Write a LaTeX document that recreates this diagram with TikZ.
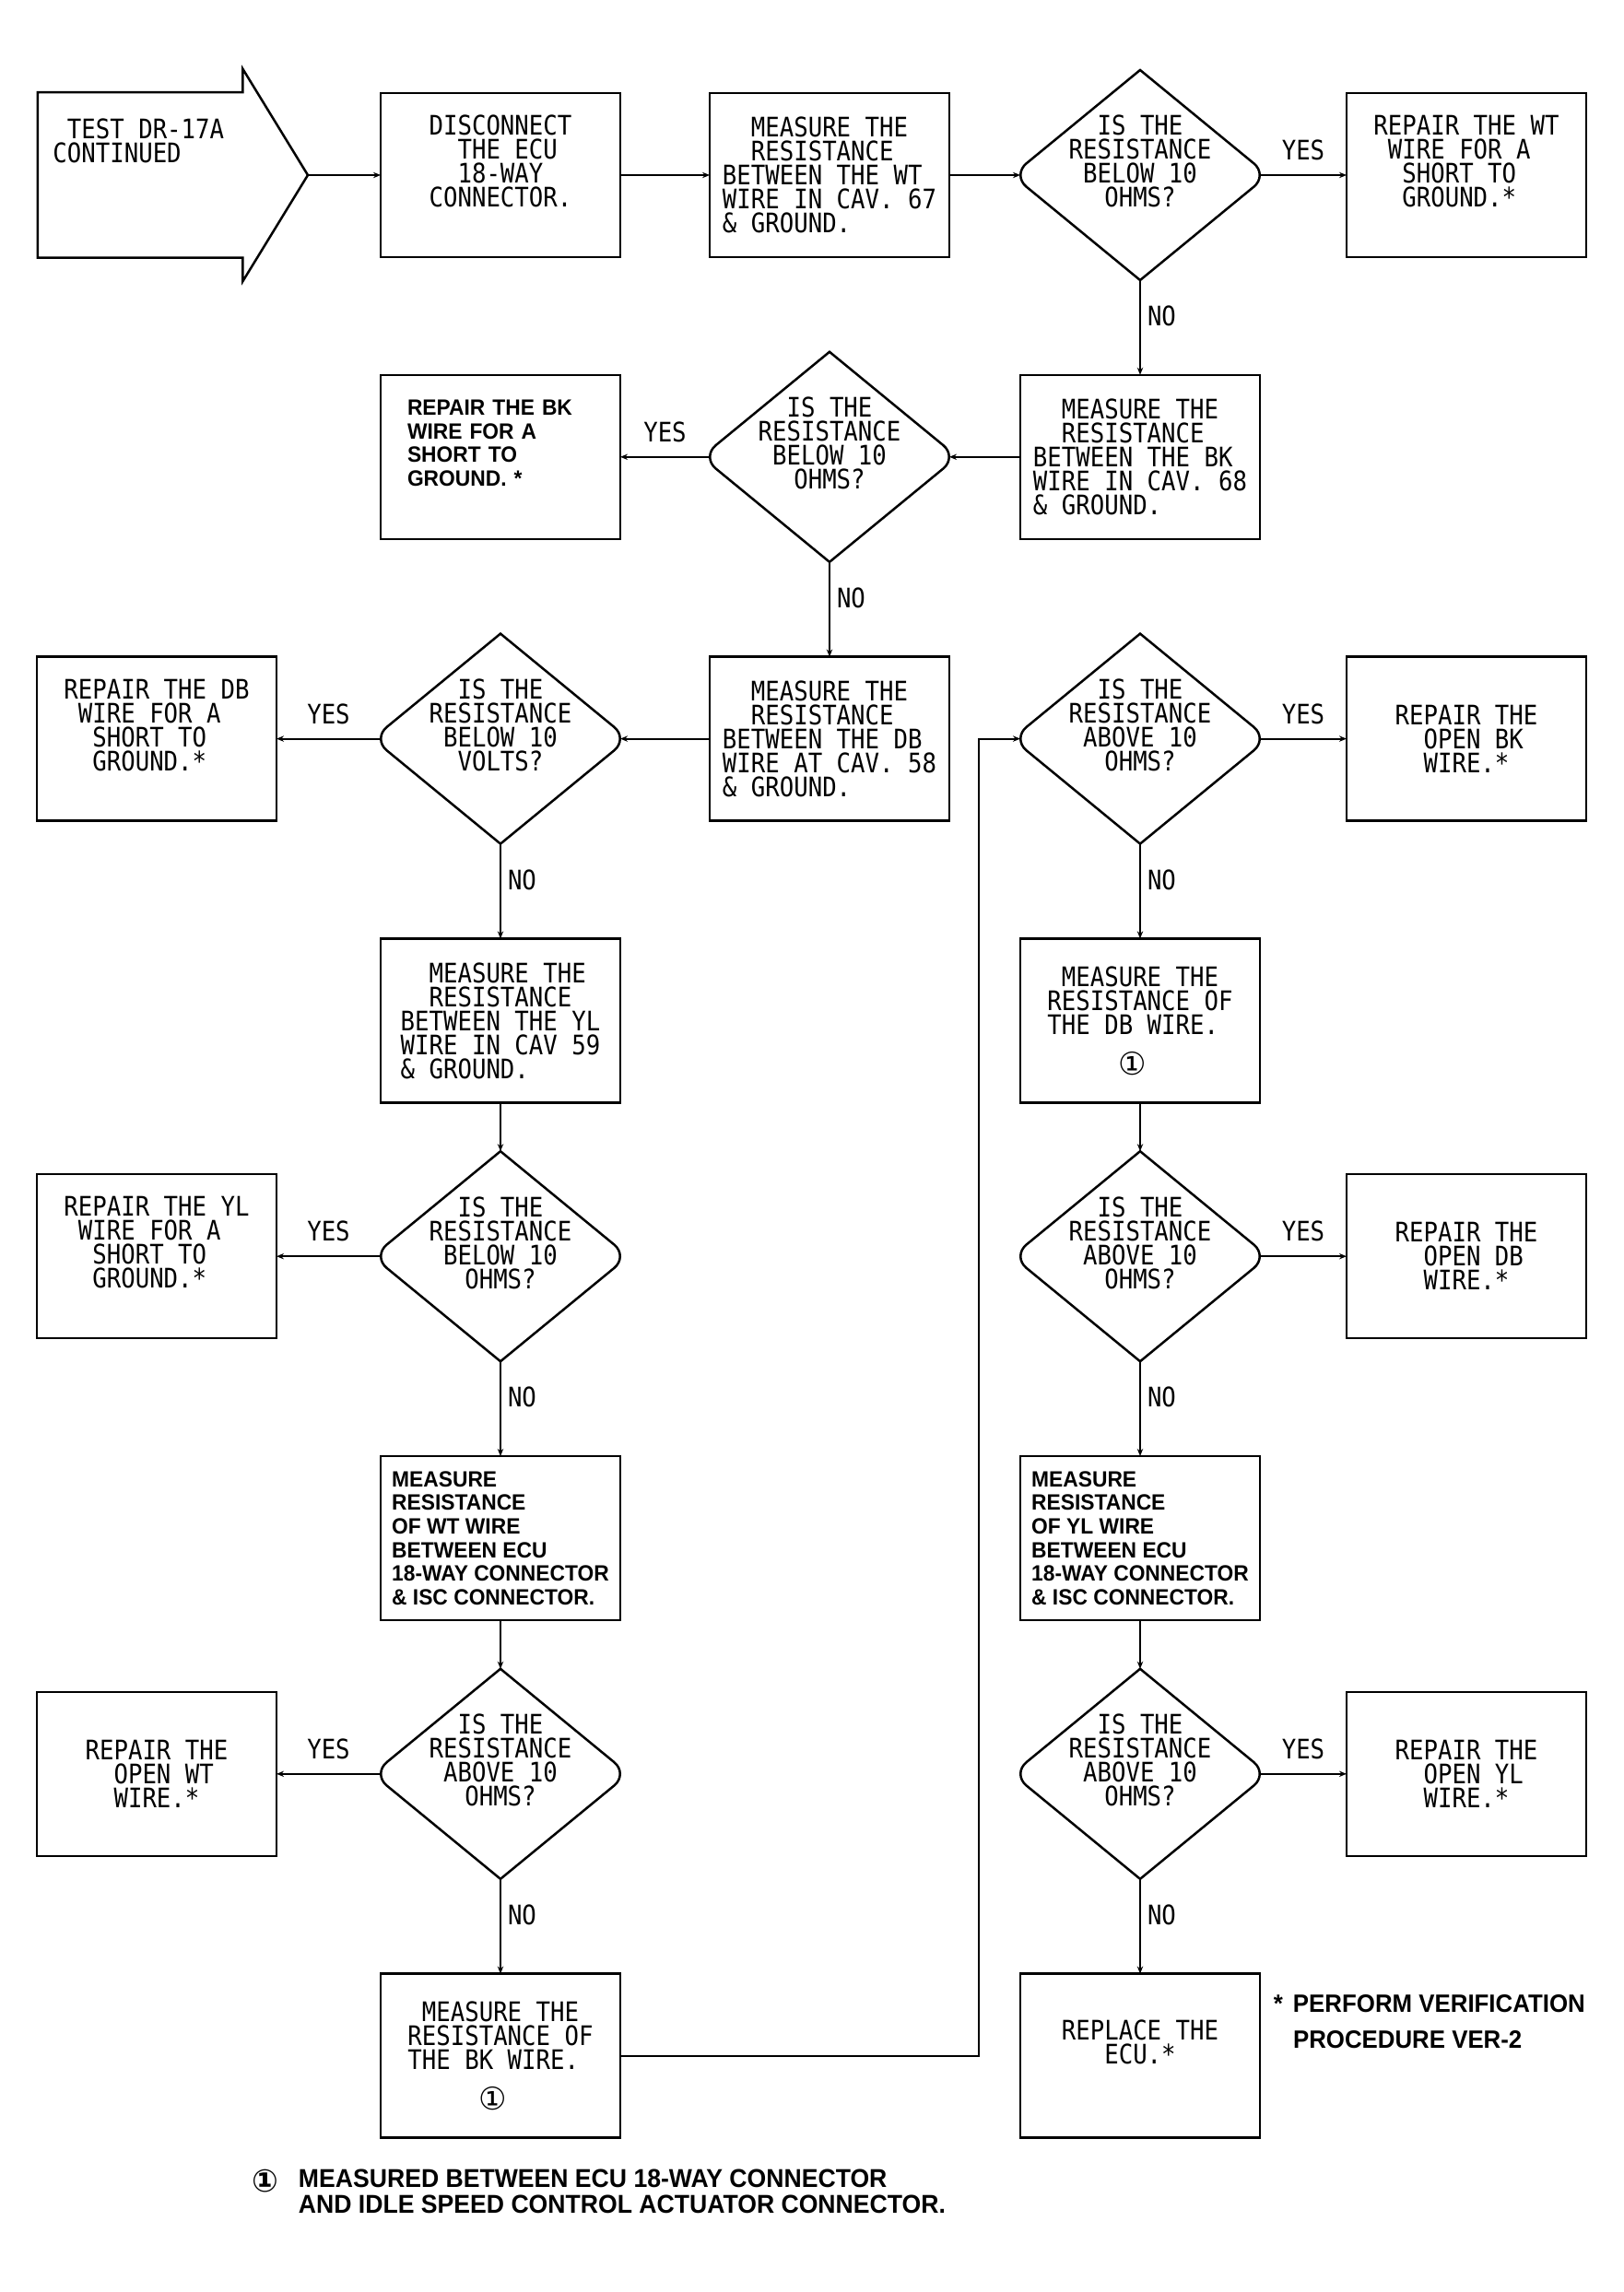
\documentclass[tikz,border=0pt]{standalone}
\usepackage{fontspec}
\newfontfamily\plotfont[FakeStretch=0.88]{DejaVu Sans Mono}
\newfontfamily\heavyfont[FakeStretch=0.95]{Liberation Sans}
\newfontfamily\circfont{DejaVu Sans}
\usetikzlibrary{arrows.meta, positioning, shapes.geometric, shapes.arrows, calc}
\newcommand{\pad}{\hphantom{0}}
\newcommand{\lift}{\rule[-15pt]{0pt}{15pt}}
\newcommand{\circone}{{\circfont\fontsize{17pt}{17pt}\selectfont ①}}
\tikzset{
  plot text/.style={font=\plotfont\fontsize{14.6pt}{13pt}\selectfont},
  heavy text/.style={font=\heavyfont\bfseries\fontsize{12pt}{12.8pt}\selectfont},
  block/.style={rectangle, draw, line width=1.25pt, minimum width=130pt, minimum height=89pt, inner sep=0pt, align=left, plot text},
  heavyblock/.style={block, heavy text},
  decision/.style={diamond, aspect=1.14, minimum width=130pt, minimum height=114pt, inner sep=-6pt, align=center, plot text},
  yeslabel/.style={midway, above=8pt, inner sep=0pt, plot text},
  nolabel/.style={pos=0.38, right=4pt, inner sep=0pt, plot text},
  startarrow/.style={single arrow, draw, line width=1.25pt, minimum height=146.5pt, minimum width=114pt, single arrow head extend=12.75pt, single arrow tip angle=117, inner xsep=0pt, inner ysep=44.25pt}
}
\begin{document}
\begin{tikzpicture}[>={Stealth[length=4pt, width=3.2pt]}, line width=1.1pt, node distance=51.4pt, every node/.style={outer sep=0pt}]
\useasboundingbox (-271.5pt,95pt) rectangle (609pt,-1148.5pt);
% top row
\node[block] (disc) at (0,0) {DISCONNECT\\\pad\pad THE ECU\\\pad\pad 18-WAY\\CONNECTOR.\lift};
\node[startarrow, left=39.5pt of disc, anchor=tip] (start) {};
\node[anchor=north west, inner sep=0pt, align=left, plot text] (starttext) at ([xshift=8.25pt, yshift=30.5pt]start.tail) {\pad TEST DR-17A\\CONTINUED};
\node[block, right=48.5pt of disc] (measWT) {\pad\pad MEASURE THE\\\pad\pad RESISTANCE\\BETWEEN THE WT\\WIRE IN CAV. 67\\\& GROUND.};
\node[decision, right=38.5pt of measWT] (q1) {IS THE\\RESISTANCE\\BELOW 10\\OHMS?\lift};
\node[block, right=47pt of q1] (repWT) {REPAIR THE WT\\\pad WIRE FOR A\\\pad\pad SHORT TO\\\pad\pad GROUND.*\lift};
% left branch
\node[block, below=of q1] (measBK) {\pad\pad MEASURE THE\\\pad\pad RESISTANCE\\BETWEEN THE BK\\WIRE IN CAV. 68\\\& GROUND.};
\node[decision, left=38.5pt of measBK] (q2) {IS THE\\RESISTANCE\\BELOW 10\\OHMS?\lift};
\node[heavyblock, text width=101pt, left=48.5pt of q2] (repBK) {REPAIR THE BK\\WIRE FOR A\\SHORT TO\\GROUND. *\lift};
\node[block, below=of q2] (measDB) {\pad\pad MEASURE THE\\\pad\pad RESISTANCE\\BETWEEN THE DB\\WIRE AT CAV. 58\\\& GROUND.};
\node[decision, left=48.5pt of measDB] (q3) {IS THE\\RESISTANCE\\BELOW 10\\VOLTS?\lift};
\node[block, left=56.5pt of q3] (repDB) {REPAIR THE DB\\\pad WIRE FOR A\\\pad\pad SHORT TO\\\pad\pad GROUND.*\lift};
\node[block, below=of q3] (measYL) {\pad\pad MEASURE THE\\\pad\pad RESISTANCE\\BETWEEN THE YL\\WIRE IN CAV 59\\\& GROUND.};
\node[decision, below=26.4pt of measYL] (q4) {IS THE\\RESISTANCE\\BELOW 10\\OHMS?\lift};
\node[block, left=56.5pt of q4] (repYL) {REPAIR THE YL\\\pad WIRE FOR A\\\pad\pad SHORT TO\\\pad\pad GROUND.*\lift};
\node[heavyblock, below=of q4] (measWTisc) {MEASURE\\RESISTANCE\\OF WT WIRE\\BETWEEN ECU\\18-WAY CONNECTOR\\\& ISC CONNECTOR.};
\node[decision, below=26.4pt of measWTisc] (q5) {IS THE\\RESISTANCE\\ABOVE 10\\OHMS?\lift};
\node[block, left=56.5pt of q5] (repWTopen) {REPAIR THE\\\pad\pad OPEN WT\\\pad\pad WIRE.*};
\node[block, below=of q5] (measBKwire) {\pad MEASURE THE\\RESISTANCE OF\\THE BK WIRE.\\[9pt]\pad\pad\pad\pad\pad\circone};
% right branch
\node[decision, right=38.5pt of measDB] (q6) {IS THE\\RESISTANCE\\ABOVE 10\\OHMS?\lift};
\node[block, right=47pt of q6] (repBKopen) {REPAIR THE\\\pad\pad OPEN BK\\\pad\pad WIRE.*};
\node[block, below=of q6] (measDBwire) {\pad MEASURE THE\\RESISTANCE OF\\THE DB WIRE.\\[9pt]\pad\pad\pad\pad\pad\circone};
\node[decision, below=26.4pt of measDBwire] (q7) {IS THE\\RESISTANCE\\ABOVE 10\\OHMS?\lift};
\node[block, right=47pt of q7] (repDBopen) {REPAIR THE\\\pad\pad OPEN DB\\\pad\pad WIRE.*};
\node[heavyblock, below=of q7] (measYLisc) {MEASURE\\RESISTANCE\\OF YL WIRE\\BETWEEN ECU\\18-WAY CONNECTOR\\\& ISC CONNECTOR.};
\node[decision, below=26.4pt of measYLisc] (q8) {IS THE\\RESISTANCE\\ABOVE 10\\OHMS?\lift};
\node[block, right=47pt of q8] (repYLopen) {REPAIR THE\\\pad\pad OPEN YL\\\pad\pad WIRE.*};
\node[block, below=of q8] (ecu) {REPLACE THE\\\pad\pad\pad ECU.*\lift};
% notes
\node[below right=11.5pt and 18pt of ecu.north east, align=left, inner sep=0pt, font=\heavyfont\bfseries\fontsize{13.6pt}{19.5pt}\selectfont] (verify) {\llap{*\hspace{5.5pt}}PERFORM VERIFICATION\\PROCEDURE VER-2};
\node[below right=17pt and -44.5pt of measBKwire.south west, align=left, inner sep=0pt, font=\heavyfont\bfseries\fontsize{14pt}{14pt}\selectfont] (measnote) {\llap{\smash{\raisebox{-2.5pt}{\circone}}\hspace{11pt}}MEASURED BETWEEN ECU 18-WAY CONNECTOR\\AND IDLE SPEED CONTROL ACTUATOR CONNECTOR.};
% diamond outlines, rounded at the side corners
\foreach \q in {q1,q2,q3,q4,q5,q6,q7,q8}
  \draw[line width=1.25pt] ($(\q.north)!.5!([xshift=4.4pt]\q.east)$) [rounded corners=10pt] -- ([xshift=4.4pt]\q.east) [sharp corners] -- (\q.south) [rounded corners=10pt] -- ([xshift=-4.4pt]\q.west) [sharp corners] -- (\q.north) -- cycle;
% connectors
\draw[->] (start) -- (disc);
\draw[->] (disc) -- (measWT);
\draw[->] (measWT) -- (q1);
\draw[->] (q1) -- node[yeslabel] {YES} (repWT);
\draw[->] (q1) -- node[nolabel] {NO} (measBK);
\draw[->] (measBK) -- (q2);
\draw[->] (q2) -- node[yeslabel] {YES} (repBK);
\draw[->] (q2) -- node[nolabel] {NO} (measDB);
\draw[->] (measDB) -- (q3);
\draw[->] (q3) -- node[yeslabel] {YES} (repDB);
\draw[->] (q3) -- node[nolabel] {NO} (measYL);
\draw[->] (measYL) -- (q4);
\draw[->] (q4) -- node[yeslabel] {YES} (repYL);
\draw[->] (q4) -- node[nolabel] {NO} (measWTisc);
\draw[->] (measWTisc) -- (q5);
\draw[->] (q5) -- node[yeslabel] {YES} (repWTopen);
\draw[->] (q5) -- node[nolabel] {NO} (measBKwire);
\draw[->] (measBKwire.east) -| ([xshift=-22.5pt]q6.west) -- (q6.west);
\draw[->] (q6) -- node[yeslabel] {YES} (repBKopen);
\draw[->] (q6) -- node[nolabel] {NO} (measDBwire);
\draw[->] (measDBwire) -- (q7);
\draw[->] (q7) -- node[yeslabel] {YES} (repDBopen);
\draw[->] (q7) -- node[nolabel] {NO} (measYLisc);
\draw[->] (measYLisc) -- (q8);
\draw[->] (q8) -- node[yeslabel] {YES} (repYLopen);
\draw[->] (q8) -- node[nolabel] {NO} (ecu);
\end{tikzpicture}
\end{document}
